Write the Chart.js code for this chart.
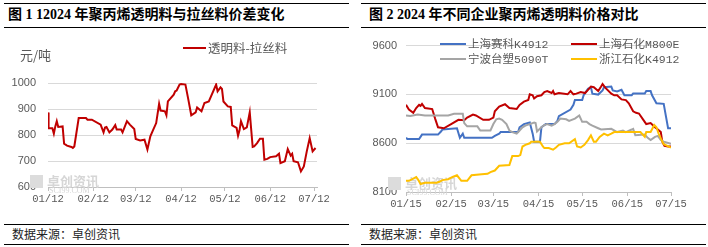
<!DOCTYPE html>
<html>
<head>
<meta charset="utf-8">
<script src="https://cdn.jsdelivr.net/npm/chart.js@4.4.1/dist/chart.umd.min.js"></script>
<style>
  body { margin: 0; width: 708px; height: 247px; background: #fff; position: relative; overflow: hidden; font-family: "Noto Sans CJK SC", sans-serif; }
  .rule { position: absolute; height: 0; border-top: 1.5px solid #000; }
  .title { position: absolute; top: 6px; line-height: 18px; font-weight: bold; font-size: 14px; font-family: "Liberation Serif", "Noto Sans CJK SC", serif; color: #000; white-space: nowrap; }
  .src { position: absolute; top: 226px; line-height: 16px; font-size: 12px; color: #222; white-space: nowrap; }
  canvas { position: absolute; top: 30px; }
</style>
</head>
<body>
<div class="rule" style="left:4px;width:345px;top:3px"></div>
<div class="rule" style="left:4px;width:345px;top:27px"></div>
<div class="rule" style="left:361px;width:345px;top:3px"></div>
<div class="rule" style="left:361px;width:345px;top:27px"></div>
<div class="title" style="left:8px">图 1 12024 年聚丙烯透明料与拉丝料价差变化</div>
<div class="title" style="left:369px">图 2 2024 年不同企业聚丙烯透明料价格对比</div>

<canvas id="c1" width="354" height="185" style="left:0;width:354px;height:185px"></canvas>
<canvas id="c2" width="354" height="185" style="left:354px;width:354px;height:185px"></canvas>

<div class="rule" style="left:4px;width:345px;top:224px"></div>
<div class="rule" style="left:4px;width:345px;top:244px"></div>
<div class="rule" style="left:361px;width:345px;top:224px"></div>
<div class="rule" style="left:361px;width:345px;top:244px"></div>
<div class="src" style="left:12px">数据来源：卓创资讯</div>
<div class="src" style="left:369px">数据来源：卓创资讯</div>

<script>
// 图1：透明料-拉丝料价差（天数从 01/12 起算）
var leftNames = ["透明料-拉丝料"];
var leftTickDays = [0, 31, 60, 91, 121, 152, 182];
var leftTickLabels = ["01/12", "02/12", "03/12", "04/12", "05/12", "06/12", "07/12"];
var spreadDays = [0, 0.4, 3, 4, 5, 6, 7, 10, 11, 13,
  16, 17, 18, 21, 26, 27, 30, 36, 38, 39,
  40, 42, 44, 46, 47, 50, 51, 54, 56, 59,
  60, 63, 66, 68, 70, 72, 74, 76, 77, 80,
  81, 82, 86, 87, 88, 90, 91, 94, 96, 98,
  101, 102, 105, 107, 110, 115, 116, 118, 119, 120,
  123, 125, 126, 129, 130, 131, 132, 134, 136, 138,
  140, 141, 143, 145, 147, 148, 150, 152, 156, 158,
  159, 162, 164, 166, 167, 168, 171, 173, 175, 177,
  179, 181, 183];
var spreadValues = [887, 826, 826, 805, 833, 853, 831, 833, 767, 759,
  754, 750, 756, 865, 865, 859, 859, 840, 810, 829,
  831, 810, 821, 838, 821, 821, 810, 853, 840, 823,
  785, 779, 782, 744, 795, 821, 846, 920, 894, 891,
  876, 929, 955, 968, 971, 994, 996, 994, 936, 876,
  887, 906, 891, 923, 929, 994, 968, 983, 977, 929,
  910, 908, 837, 827, 797, 818, 853, 823, 829, 887,
  754, 756, 769, 786, 786, 705, 708, 715, 718, 728,
  692, 699, 746, 721, 728, 699, 695, 660, 679, 737,
  788, 737, 750];

// 图2：各企业价格（天数从 01/15 起算）
var rightNames = ["上海赛科K4912", "上海石化M800E", "宁波台塑5090T", "浙江石化K4912"];
var rightTickDays = [0, 31, 60, 91, 121, 152, 182];
var rightTickLabels = ["01/15", "02/15", "03/15", "04/15", "05/15", "06/15", "07/15"];

var saikeDays = [0, 1, 9, 11, 22, 24, 25, 35, 37, 39, 40, 59, 61, 64, 65, 77, 78, 81, 85, 87,
  88, 92, 93, 96, 102, 104, 105, 113, 115, 116, 121, 122, 125, 127, 128, 132, 135, 136, 141, 142,
  145, 148, 150, 155, 156, 164, 165, 168, 169, 172, 177, 178.5, 180, 182];
var saikeValues = [8655, 8642, 8642, 8688, 8688, 8720, 8740, 8753, 8655, 8698, 8655, 8655, 8675, 8698, 8714, 8714, 8763, 8796, 8812, 8698,
  8616, 8616, 8763, 8796, 8796, 8829, 8878, 8944, 8993, 9042, 9042, 9091, 9157, 9173, 9108, 9098, 9141, 9173, 9180, 9141,
  9131, 9147, 9091, 9091, 9108, 9108, 9134, 9134, 9091, 9009, 9003, 8878, 8753, 8753];

var shihuaDays = [0, 2, 5, 7, 9, 10, 11, 13, 18, 20, 22, 26, 31, 36, 40, 42, 46, 48, 53, 57,
  60, 61, 64, 68, 71, 76, 78, 81, 84, 85, 87, 88, 90, 93, 95, 97, 100, 101, 102, 105,
  111, 113, 115, 117, 120, 123, 125, 127, 129, 132, 134, 135, 137, 141, 143, 145, 148, 151, 153, 156,
  158, 160, 163, 165, 168, 171, 173, 175, 176, 177.5, 180, 182];
var shihuaValues = [8993, 8944, 8911, 8960, 8993, 8983, 9003, 8960, 8950, 8852, 8763, 8753, 8796, 8839, 8835, 8862, 8894, 8884, 8839, 8839,
  8862, 8927, 8976, 8999, 8960, 8950, 8993, 9026, 9042, 9101, 9091, 9058, 9081, 9091, 9124, 9134, 9114, 9134, 9101, 9114,
  9101, 9134, 9101, 9108, 9124, 9114, 9147, 9180, 9173, 9134, 9180, 9206, 9167, 9108, 9091, 9091, 9049, 9042, 9009, 8927,
  8911, 8904, 8839, 8796, 8806, 8763, 8740, 8714, 8616, 8573, 8566, 8566];

var taisuDays = [0, 3, 8, 13, 29, 33, 39, 40, 42, 49, 51, 58, 60, 62, 64, 66, 69, 71, 73, 76,
  78, 80, 82, 85, 88, 89, 90, 93, 95, 97, 100, 102, 104, 106, 110, 112, 116, 119, 121, 124,
  126, 128, 132, 134, 141, 145, 149, 151, 155, 156, 157.5, 164, 166, 168, 171, 173, 175, 177, 182];
var taisuValues = [8884, 8878, 8894, 8884, 8884, 8901, 8901, 8806, 8773, 8773, 8730, 8730, 8796, 8845, 8852, 8839, 8796, 8730, 8714, 8698,
  8730, 8763, 8780, 8796, 8812, 8806, 8720, 8763, 8786, 8796, 8780, 8796, 8819, 8852, 8845, 8829, 8852, 8884, 8819, 8819,
  8796, 8780, 8753, 8740, 8747, 8714, 8730, 8714, 8740, 8747, 8681, 8688, 8655, 8632, 8665, 8675, 8632, 8616, 8593];

var zhejiangDays = [0, 2, 5, 7, 8.5, 10, 13, 21, 23, 25, 29, 32, 35, 38, 42, 45, 52, 56, 58, 61,
  64, 71, 73, 77, 78.5, 80, 82, 85, 86, 92, 94, 95, 98, 101, 103, 105, 109, 112, 116, 117.5,
  120, 122.5, 125, 127, 129, 130.5, 133, 136, 138.5, 141, 143, 161, 164, 165, 168, 170.5, 172, 173.5, 175, 177, 182];
var zhejiangValues = [8215, 8215, 8238, 8254, 8222, 8182, 8195, 8195, 8205, 8222, 8231, 8254, 8271, 8215, 8215, 8271, 8281, 8287, 8304, 8320,
  8369, 8376, 8468, 8468, 8478, 8566, 8583, 8599, 8616, 8616, 8566, 8550, 8550, 8533, 8556, 8583, 8599, 8599, 8642, 8566,
  8556, 8583, 8632, 8681, 8616, 8616, 8665, 8698, 8681, 8698, 8714, 8714, 8665, 8714, 8714, 8786, 8763, 8698, 8649, 8589, 8556];

var textGray = "#595959";

function points(days, values) {
  return days.map(function (d, i) { return { x: d, y: values[i] }; });
}

function makeOptions(o) {
  return {
    responsive: false,
    animation: false,
    layout: { padding: { left: 0, top: o.top, right: o.right, bottom: 0 } },
    plugins: { legend: { display: false }, tooltip: { enabled: false } },
    elements: { point: { radius: 0 }, line: { borderWidth: 2, tension: 0 } },
    scales: {
      x: {
        type: "linear", min: 0, max: o.xMax,
        afterFit: function (s) { s.height = o.xHeight; },
        afterBuildTicks: function (s) { s.ticks = o.tickDays.map(function (v) { return { value: v }; }); },
        ticks: {
          autoSkip: false, maxRotation: 0, padding: 2, color: textGray,
          font: { family: "Liberation Mono", size: 10.5 },
          callback: function (v, i) { return o.tickLabels[i]; }
        },
        grid: { drawOnChartArea: false, color: "#bfbfbf", tickLength: 4 },
        border: { color: "#bfbfbf" }
      },
      y: {
        min: o.yMin, max: o.yMax,
        afterFit: function (s) { s.width = o.yWidth; },
        ticks: {
          stepSize: o.step, padding: o.yPad, color: textGray,
          font: { family: "Liberation Sans", size: 11 },
          callback: function (v) { return String(v); }
        },
        grid: { color: "#d9d9d9", drawTicks: false },
        border: { display: false }
      }
    }
  };
}

// 水印
function watermark(ctx, x, y) {
  ctx.save();
  ctx.fillStyle = "#dcdcdc";
  ctx.fillRect(x - 17, y - 8, 13, 13);
  ctx.fillStyle = "#d6d6d6";
  ctx.font = "bold 13px 'Noto Sans CJK SC'";
  ctx.textBaseline = "middle";
  ctx.fillText("卓创资讯", x, y - 2);
  ctx.font = "8px 'Liberation Serif'";
  ctx.fillText("SCI99.COM", x + 2, y + 8);
  ctx.restore();
}

function legendItem(ctx, x0, x1, y, color, label) {
  ctx.strokeStyle = color;
  ctx.lineWidth = 2;
  ctx.beginPath();
  ctx.moveTo(x0, y);
  ctx.lineTo(x1, y);
  ctx.stroke();
  ctx.fillStyle = textGray;
  ctx.textBaseline = "middle";
  ctx.fillText(label, x1 + 2, y + 0.5);
}

var leftDeco = {
  id: "leftDeco",
  beforeDatasetsDraw: function (chart) { watermark(chart.ctx, 47, 153); },
  afterDraw: function (chart) {
    var ctx = chart.ctx;
    ctx.save();
    ctx.fillStyle = textGray;
    ctx.font = "13px 'Noto Sans CJK SC'";
    ctx.textBaseline = "middle";
    ctx.fillText("元/吨", 20, 25);
    ctx.font = "12.5px 'Noto Sans CJK SC'";
    legendItem(ctx, 183, 206, 18, "#c00000", leftNames[0]);
    ctx.restore();
  }
};

var rightDeco = {
  id: "rightDeco",
  beforeDatasetsDraw: function (chart) { watermark(chart.ctx, 51, 155); },
  afterDraw: function (chart) {
    var ctx = chart.ctx;
    ctx.save();
    ctx.font = "11.5px 'Liberation Mono', 'Noto Sans CJK SC'";
    legendItem(ctx, 86, 112, 14, "#4472c4", rightNames[0]);
    legendItem(ctx, 217, 243, 14, "#c00000", rightNames[1]);
    legendItem(ctx, 86, 112, 29, "#a5a5a5", rightNames[2]);
    legendItem(ctx, 217, 243, 29, "#ffc000", rightNames[3]);
    ctx.restore();
  }
};

new Chart(document.getElementById("c1"), {
  type: "line",
  data: {
    datasets: [{
      label: leftNames[0],
      data: points(spreadDays, spreadValues),
      borderColor: "#c00000",
      backgroundColor: "#c00000"
    }]
  },
  options: makeOptions({
    top: 53, right: 37, xMax: 184, xHeight: 28, yWidth: 48, yPad: 12,
    yMin: 600, yMax: 1000, step: 100,
    tickDays: leftTickDays, tickLabels: leftTickLabels
  }),
  plugins: [leftDeco]
});

new Chart(document.getElementById("c2"), {
  type: "line",
  data: {
    datasets: [
      { label: rightNames[0], data: points(saikeDays, saikeValues), borderColor: "#4472c4", order: 4 },
      { label: rightNames[1], data: points(shihuaDays, shihuaValues), borderColor: "#c00000", order: 3 },
      { label: rightNames[2], data: points(taisuDays, taisuValues), borderColor: "#a5a5a5", order: 2 },
      { label: rightNames[3], data: points(zhejiangDays, zhejiangValues), borderColor: "#ffc000", order: 1 }
    ]
  },
  options: makeOptions({
    top: 11, right: 37, xMax: 182, xHeight: 23, yWidth: 52, yPad: 9,
    yMin: 8100, yMax: 9600, step: 500,
    tickDays: rightTickDays, tickLabels: rightTickLabels
  }),
  plugins: [rightDeco]
});
</script>
</body>
</html>
